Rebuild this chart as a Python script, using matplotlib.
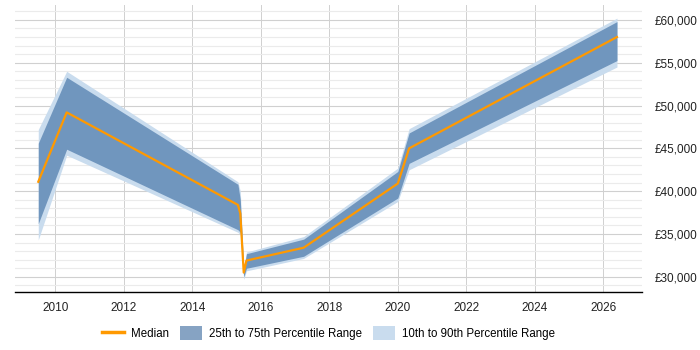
import numpy as np
import matplotlib.pyplot as plt
from matplotlib.ticker import MultipleLocator, FuncFormatter
from matplotlib.patches import Patch
from matplotlib.lines import Line2D

plt.rcParams['font.family'] = ['Liberation Sans', 'DejaVu Sans']

# Salary percentiles over time (decimal years)
years = [2009.5, 2010.33, 2015.33, 2015.4, 2015.5, 2015.58, 2017.25, 2020.0, 2020.33, 2026.4]
median = [41100, 49200, 38400, 37400, 30500, 31900, 33400, 40900, 45000, 58000]
p25 = [36200, 44900, 35500, 35200, 30000, 31000, 32400, 39200, 43250, 55250]
p75 = [45600, 53300, 40800, 39000, 30900, 32700, 34400, 42300, 46800, 59800]
p10 = [34300, 44200, 35200, 34900, 29700, 30700, 32150, 38800, 42500, 54500]
p90 = [47200, 54000, 41100, 40000, 31100, 32900, 34700, 42700, 47300, 60200]

fig = plt.figure(figsize=(7, 3.5), dpi=100)
ax = fig.add_axes([0.0214, 0.165, 0.8957, 0.821])

light = '#c9dcee'
dark = '#7096be'
orange = '#ff9900'

ax.fill_between(years, p10, p90, color=light, lw=0, zorder=2)
ax.fill_between(years, p25, p75, color=dark, lw=0, zorder=3)
ax.plot(years, median, color=orange, lw=1.6, zorder=4)

ax.set_xlim(2008.82, 2027.13)
ax.set_ylim(28200, 61750)

ax.xaxis.set_major_locator(MultipleLocator(2))
ax.yaxis.set_major_locator(MultipleLocator(5000))
ax.yaxis.set_minor_locator(MultipleLocator(1000))
ax.yaxis.set_major_formatter(FuncFormatter(lambda v, p: '£{:,.0f}'.format(v)))
ax.yaxis.tick_right()

ax.grid(axis='x', which='major', color='#d0d0d0', lw=0.7, zorder=0)
ax.grid(axis='y', which='major', color='#d0d0d0', lw=0.8, zorder=0)
ax.grid(axis='y', which='minor', color='#ebebeb', lw=0.8, zorder=0)
ax.set_axisbelow(True)

ax.tick_params(axis='both', which='both', length=0, labelsize=8.5, colors='#222222')
ax.tick_params(axis='y', pad=9)
ax.tick_params(axis='x', pad=7)

for s in ['top', 'left', 'right']:
    ax.spines[s].set_visible(False)
ax.spines['bottom'].set_color('black')
ax.spines['bottom'].set_linewidth(1)

handles = [Line2D([0], [0], color=orange, lw=2.5),
           Patch(facecolor='#86a3c3', edgecolor='none'),
           Patch(facecolor=light, edgecolor='none')]
labels = ['Median', '25th to 75th Percentile Range', '10th to 90th Percentile Range']
ax.legend(handles, labels, loc='center', bbox_to_anchor=(0.5, -0.142), ncol=3,
          frameon=False, fontsize=8.3, handlelength=1.9, handleheight=1.4,
          columnspacing=1.0, handletextpad=0.6)

fig.savefig('out.png', dpi=100)
